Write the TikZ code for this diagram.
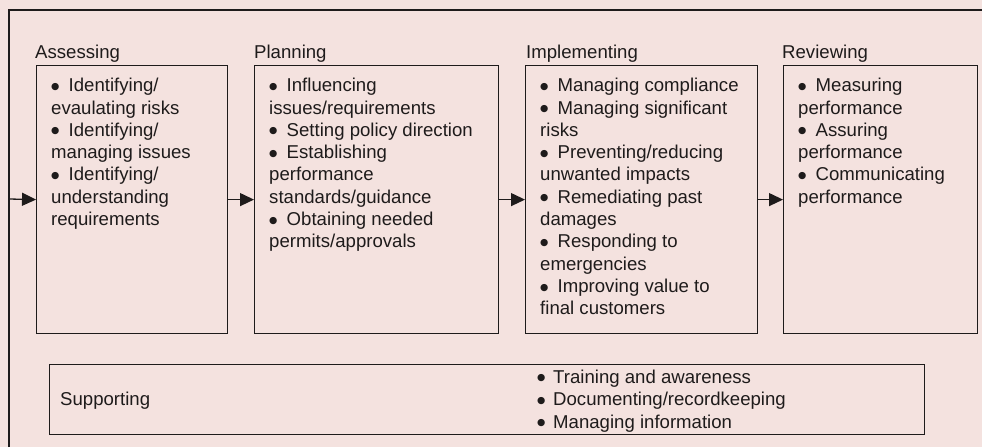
\documentclass[tikz,border=0pt]{standalone}
\usepackage{fontspec}
\setmainfont{Liberation Sans}
\newfontfamily\dotfont{DejaVu Sans}
\usetikzlibrary{arrows.meta,calc}

\definecolor{paper}{RGB}{244,226,223}
\definecolor{ink}{RGB}{30,27,27}

% round bullet followed by a fixed gap
\newcommand{\bigdot}{\raisebox{2.4pt}{\fontsize{9.5}{9.5}\dotfont ●}}
\newcommand{\bul}{\makebox[17.5pt][l]{\bigdot}}
% invisible strut fixing the height of a first line
\newcommand{\topstrut}{\rule{0pt}{16.5pt}}

\begin{document}
\begin{tikzpicture}[x=1pt,y=-1pt,
  stagebox/.style={draw=ink, line width=1.2pt, anchor=north west, inner sep=0pt,
                   minimum width=#1, minimum height=268pt},
  supbox/.style={draw=ink, line width=1.2pt, anchor=north west, inner sep=0pt,
                 minimum width=875pt, minimum height=70pt},
  body/.style={anchor=north west, inner sep=0pt, align=left, text=ink,
               font=\fontsize{18.6}{22.3}\selectfont},
  title/.style={anchor=base west, inner sep=0pt, text=ink,
                font=\fontsize{18.6}{22.3}\selectfont},
  flow/.style={draw=ink, line width=1.3pt, -{Triangle[length=14pt,width=13pt]}},
  frame/.style={draw=ink, line width=1.3pt}
]
\fill[paper] (0,0) rectangle (982,447);
\useasboundingbox (0,0) rectangle (982,447);

% outer frame: left edge and top edge
\coordinate (fbot) at (9,447);
\coordinate (ftop) at (9,10);
\coordinate (fright) at (982,10);
\draw[frame] (fbot) -- (ftop) -- (fright);

% stage boxes
\node[stagebox=191pt] (A) at (36,65) {};
\node[stagebox=244pt] (P) at (254,65) {};
\node[stagebox=232pt] (I) at (525,65) {};
\node[stagebox=194pt] (R) at (783,65) {};

% stage titles
\node[title] (At) at (35,58) {Assessing};
\node[title] (Pt) at (254,58) {Planning};
\node[title] (It) at (526,58) {Implementing};
\node[title] (Rt) at (782,58) {Reviewing};

% stage contents
\node[body] (Ab) at ($(A.north west)+(15,10)$) {\topstrut\bul Identifying/\\evaulating risks\\\bul Identifying/\\managing issues\\\bul Identifying/\\understanding\\requirements};
\node[body] (Pb) at ($(P.north west)+(15,10)$) {\topstrut\bul Influencing\\issues/requirements\\\bul Setting policy direction\\\bul Establishing\\performance\\standards/guidance\\\bul Obtaining needed\\permits/approvals};
\node[body] (Ib) at ($(I.north west)+(15,10)$) {\topstrut\bul Managing compliance\\\bul Managing significant\\risks\\\bul Preventing/reducing\\unwanted impacts\\\bul Remediating past\\damages\\\bul Responding to\\emergencies\\\bul Improving value to\\final customers};
\node[body] (Rb) at ($(R.north west)+(15,10)$) {\topstrut\bul Measuring\\performance\\\bul Assuring\\performance\\\bul Communicating\\performance};

% flow arrows
\coordinate (fin) at (9,199);
\draw[flow] (fin) -- (A.west);
\draw[flow] (A.east) -- (P.west);
\draw[flow] (P.east) -- (I.west);
\draw[flow] (I.east) -- (R.west);

% supporting activities
\node[supbox] (S) at (49,364) {};
\node[title] (St) at (60,405) {Supporting};
\node[body, font=\fontsize{18.6}{22.5}\selectfont] (Sb) at (537,366.5) {\topstrut\makebox[16pt][l]{\bigdot}Training and awareness\\\makebox[16pt][l]{\bigdot}Documenting/recordkeeping\\\makebox[16pt][l]{\bigdot}Managing information};
\end{tikzpicture}
\end{document}
